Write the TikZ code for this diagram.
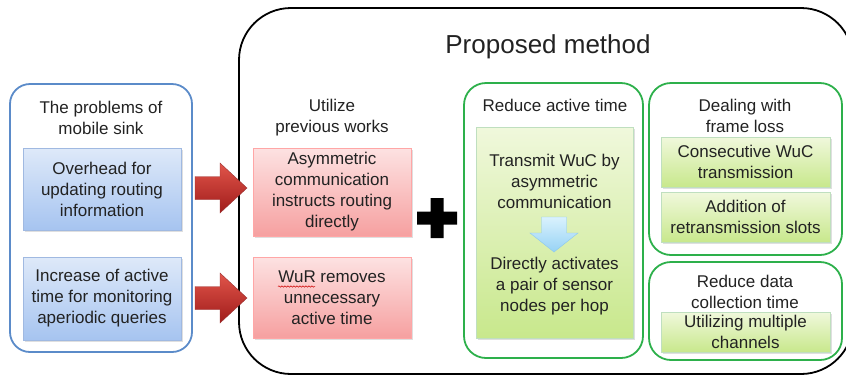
\documentclass[tikz,border=0pt]{standalone}
\usepackage{fontspec}
\setmainfont{Liberation Sans}
\usetikzlibrary{shadows,decorations.pathmorphing}

\definecolor{inkgray}{HTML}{222222}
\definecolor{sinkblue}{HTML}{5B8BC9}
\definecolor{greenline}{HTML}{2DB04B}

\tikzset{
  every node/.style={font=\fontsize{17}{21}\selectfont, text=inkgray, align=center},
  outerbox/.style={draw, line width=1.8pt, rounded corners=20pt, inner sep=0pt},
  probbox/.style={draw={rgb,255:red,160;green,185;blue,225}, top color={rgb,255:red,222;green,233;blue,249},
    bottom color={rgb,255:red,166;green,196;blue,240},
    drop shadow={opacity=0.25, shadow xshift=1.5pt, shadow yshift=-1.5pt}, inner sep=0pt},
  workbox/.style={draw=red!35, top color={rgb,255:red,253;green,226;blue,226}, bottom color={rgb,255:red,246;green,160;blue,160},
    drop shadow={opacity=0.25, shadow xshift=1.5pt, shadow yshift=-1.5pt}, inner sep=0pt},
  ideabox/.style={draw=green!50!black!25, top color={rgb,255:red,240;green,248;blue,220}, bottom color={rgb,255:red,200;green,232;blue,140},
    drop shadow={opacity=0.25, shadow xshift=1.5pt, shadow yshift=-1.5pt}, inner sep=0pt},
  redarrow/.style={draw=red!50!black!80, line width=0.4pt, top color={rgb,255:red,225;green,85;blue,75},
    bottom color={rgb,255:red,160;green,28;blue,26}},
  downarrow/.style={draw={rgb,255:red,140;green,200;blue,238}, top color={rgb,255:red,218;green,242;blue,253},
    bottom color={rgb,255:red,150;green,210;blue,245}}
}

\begin{document}
\begin{tikzpicture}[x=1pt,y=-1pt]
\useasboundingbox (0,0) rectangle (846,376);

% proposed method frame
\node[outerbox, rounded corners=52pt, minimum width=614pt, minimum height=366pt] (method) at (546,191) {};
\node[font=\fontsize{26}{30}\selectfont] (methodtitle) at (548,47) {Proposed method};

% problems of mobile sink
\node[outerbox, draw=sinkblue, minimum width=182pt, minimum height=268pt] (problems) at (101,218) {};
\node (problemstitle) at (101,118) {The problems of\\mobile sink};
\node[probbox, minimum width=158pt, minimum height=82pt] (overhead) at (102,189) {Overhead for\\updating routing\\information};
\node[probbox, minimum width=158pt, minimum height=83pt] (increase) at (102,298.5) {Increase of active\\time for monitoring\\aperiodic queries};

% red block arrows
\foreach \y/\name in {188/arrA, 298/arrB} {
  \coordinate (\name) at (195,\y);
  \shade[redarrow] (\name) ++(0,-11.5) -- ++(25,0) -- ++(0,-13.5) -- ++(27,25) -- ++(-27,25)
    -- ++(0,-13.5) -- ++(-25,0) -- cycle;
}

% previous works
\node (workstitle) at (332,118) {Utilize\\previous works};
\node[workbox, minimum width=158pt, minimum height=88pt] (asym) at (332,192) {Asymmetric\\communication\\instructs routing\\directly};
\node[workbox, minimum width=158pt, minimum height=81pt] (wur) at (332,297.5) {WuR removes\\unnecessary\\active time};
\draw[red!80!black, line width=0.5pt, decorate, decoration={snake, amplitude=0.7pt, segment length=3pt}]
  (278,286.5) -- (315,286.5);

% plus sign
\coordinate (plus) at (437,218);
\fill[black] (plus) ++(-6.5,-20) -- ++(13,0) -- ++(0,13.5) -- ++(13.5,0) -- ++(0,13) -- ++(-13.5,0)
  -- ++(0,13.5) -- ++(-13,0) -- ++(0,-13.5) -- ++(-13.5,0) -- ++(0,-13) -- ++(13.5,0) -- cycle;

% reduce active time
\node[outerbox, draw=greenline, rounded corners=22pt, minimum width=179pt, minimum height=275pt] (reduce) at (553.5,220.5) {};
\node (reducetitle) at (555,105) {Reduce active time};
\node[ideabox, minimum width=157pt, minimum height=211pt] (wucbox) at (554.5,232.5) {};
\node (transmit) at (554.5,181) {Transmit WuC by\\asymmetric\\communication};
\coordinate (down) at (554,217);
\shade[downarrow] (down) ++(-12.5,0) -- ++(25,0) -- ++(0,16) -- ++(11.5,0) -- ++(-24,19) -- ++(-24,-19)
  -- ++(11.5,0) -- cycle;
\node (activate) at (554.5,286) {Directly activates\\a pair of sensor\\nodes per hop};

% frame loss
\node[outerbox, draw=greenline, rounded corners=22pt, minimum width=193pt, minimum height=172pt] (loss) at (745.5,169) {};
\node (losstitle) at (745,116) {Dealing with\\frame loss};
\node[ideabox, minimum width=169pt, minimum height=50pt] (consec) at (745.5,162) {Consecutive WuC\\transmission};
\node[ideabox, minimum width=169pt, minimum height=50pt] (retrans) at (745.5,217) {Addition of\\retransmission slots};

% data collection time
\node[outerbox, draw=greenline, rounded corners=22pt, minimum width=193pt, minimum height=98pt] (collect) at (745.5,311) {};
\node (collecttitle) at (745,292) {Reduce data\\collection time};
\node[ideabox, minimum width=169pt, minimum height=40pt] (multi) at (745.5,332) {Utilizing multiple\\channels};
\end{tikzpicture}
\end{document}
